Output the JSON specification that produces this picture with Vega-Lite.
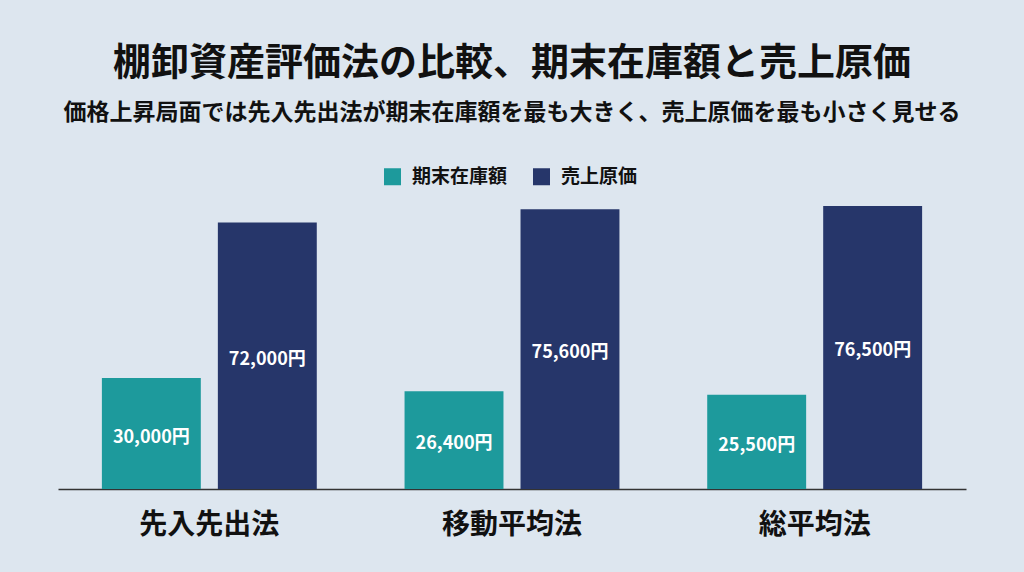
{
  "$schema": "https://vega.github.io/schema/vega-lite/v6.json",
  "width": 908,
  "height": 296,
  "autosize": "none",
  "padding": {"left": 58, "top": 193, "right": 58, "bottom": 83},
  "background": "#dde6ef",
  "config": {
    "view": {"stroke": null},
    "font": "Noto Sans CJK JP"
  },
  "title": {
    "text": "棚卸資産評価法の比較、期末在庫額と売上原価",
    "subtitle": "価格上昇局面では先入先出法が期末在庫額を最も大きく、売上原価を最も小さく見せる",
    "anchor": "middle",
    "fontSize": 38,
    "fontWeight": "bold",
    "color": "#111111",
    "subtitleFontSize": 23,
    "subtitleFontWeight": "bold",
    "subtitleColor": "#111111",
    "subtitlePadding": 19,
    "offset": 42
  },
  "data": {
    "values": [
      {"method": "先入先出法", "item": "期末在庫額", "value": 30000},
      {"method": "先入先出法", "item": "売上原価", "value": 72000},
      {"method": "移動平均法", "item": "期末在庫額", "value": 26400},
      {"method": "移動平均法", "item": "売上原価", "value": 75600},
      {"method": "総平均法", "item": "期末在庫額", "value": 25500},
      {"method": "総平均法", "item": "売上原価", "value": 76500}
    ]
  },
  "encoding": {
    "x": {
      "field": "method",
      "type": "nominal",
      "sort": ["先入先出法", "移動平均法", "総平均法"],
      "scale": {"paddingInner": 0.29, "paddingOuter": 0.145},
      "axis": {
        "title": null,
        "labelAngle": 0,
        "labelFontSize": 28,
        "labelFontWeight": "bold",
        "labelColor": "#111111",
        "labelPadding": 22,
        "ticks": false,
        "domainColor": "#333333",
        "domainWidth": 1.5
      }
    },
    "xOffset": {
      "field": "item",
      "sort": ["期末在庫額", "売上原価"],
      "scale": {"paddingInner": 0.147}
    }
  },
  "layer": [
    {
      "mark": {"type": "bar"},
      "encoding": {
        "y": {
          "field": "value",
          "type": "quantitative",
          "scale": {"domain": [0, 80000]},
          "axis": null
        },
        "color": {
          "field": "item",
          "type": "nominal",
          "sort": ["期末在庫額", "売上原価"],
          "scale": {"domain": ["期末在庫額", "売上原価"], "range": ["#1d9a9c", "#26366a"]},
          "legend": {
            "title": null,
            "orient": "none",
            "direction": "horizontal",
            "legendX": 325,
            "legendY": -26,
            "symbolType": "square",
            "symbolSize": 289,
            "symbolStrokeWidth": 0,
            "labelFontSize": 19,
            "labelFontWeight": "bold",
            "labelColor": "#111111",
            "labelOffset": 10,
            "columnPadding": 24
          }
        }
      }
    },
    {
      "mark": {
        "type": "text",
        "color": "#ffffff",
        "fontSize": 18,
        "fontWeight": "bold",
        "baseline": "middle",
        "dy": 4,
        "text": {"expr": "format(datum.value, ',') + '円'"}
      },
      "encoding": {
        "y": {
          "field": "value",
          "type": "quantitative",
          "scale": {"domain": [0, 160000]},
          "axis": null
        }
      }
    }
  ],
  "resolve": {"scale": {"y": "independent"}}
}
